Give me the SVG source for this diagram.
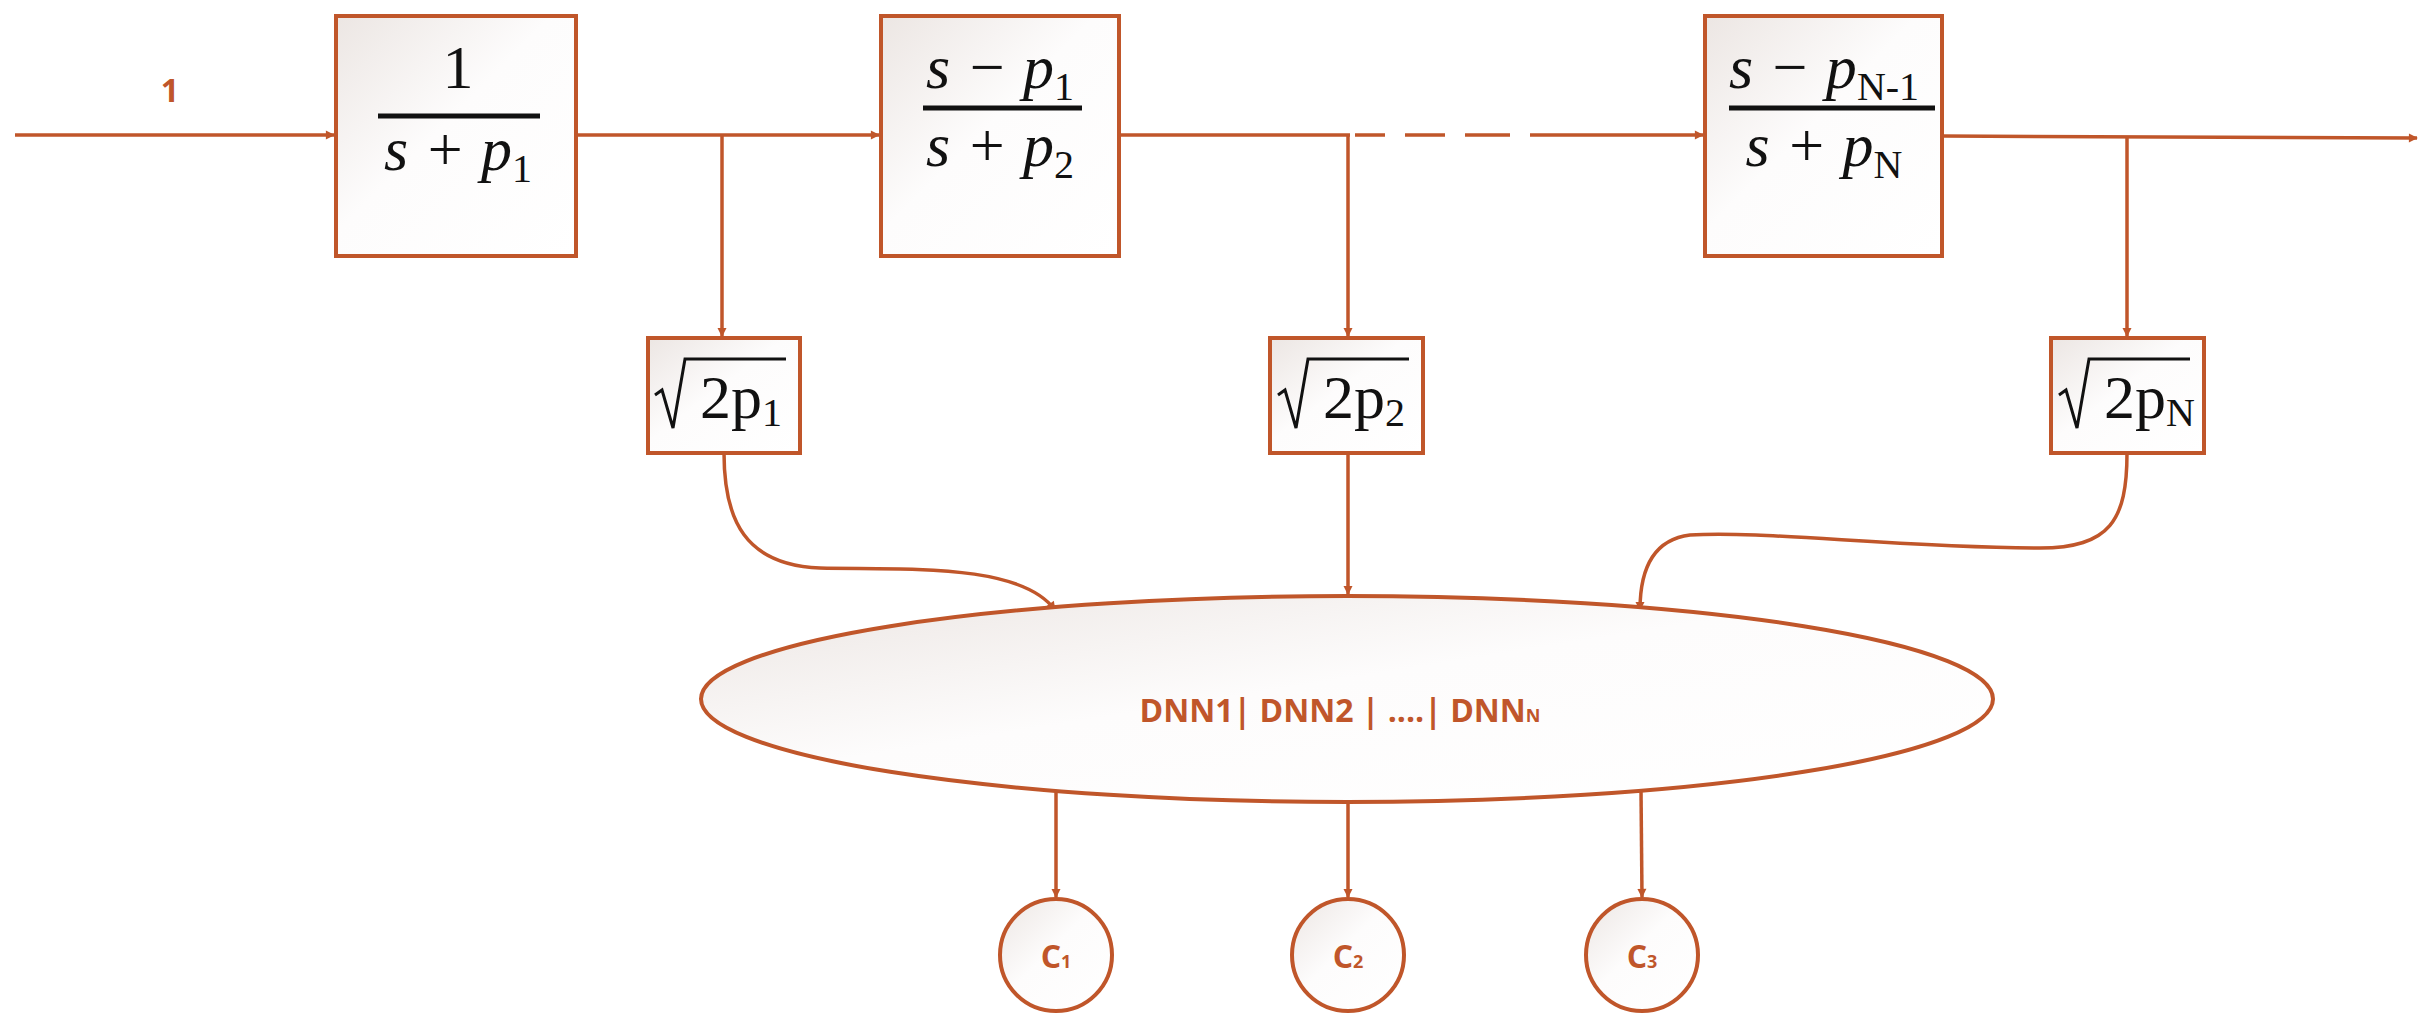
<svg xmlns="http://www.w3.org/2000/svg" width="2427" height="1021" viewBox="0 0 2427 1021">
<style>
.ln{stroke:#C0562A;stroke-width:3.5;fill:none}
.bx{stroke:#C0562A;stroke-width:4;fill:url(#g)}
.m{font-family:"Liberation Serif",serif;font-size:62px;fill:#111}
.mi{font-style:italic}
.sb{font-size:40px;font-style:normal}
.o{font-family:"Open Sans","Noto Sans",sans-serif;font-weight:bold;fill:#C0562A}
.bar{stroke:#111;stroke-width:5}
</style>
<defs>
<linearGradient id="g" x1="0" y1="0" x2="1" y2="1"><stop offset="0" stop-color="#ece6e3"/><stop offset="0.45" stop-color="#fdfcfc"/><stop offset="1" stop-color="#ffffff"/></linearGradient>
<marker id="a" viewBox="0 0 10 10" refX="9" refY="5" markerWidth="5" markerHeight="5" orient="auto" markerUnits="userSpaceOnUse" style="overflow:visible"><path d="M0,0L10,5L0,10z" fill="#C0562A" transform="scale(1.8) translate(-4,-2.2)"/></marker>
</defs>
<g id="connectors">
<line class="ln" x1="15" y1="135" x2="334" y2="135" marker-end="url(#a)"/>
<line class="ln" x1="576" y1="135" x2="879" y2="135" marker-end="url(#a)"/>
<line class="ln" x1="1119" y1="135" x2="1350" y2="135"/>
<path class="ln" d="M1355,135H1385M1405,135H1445M1465,135H1510M1530,135H1703" marker-end="url(#a)"/>
<line class="ln" x1="1942" y1="136" x2="2417" y2="138" marker-end="url(#a)"/>
<line class="ln" x1="722" y1="135" x2="722" y2="336" marker-end="url(#a)"/>
<line class="ln" x1="1348" y1="135" x2="1348" y2="336" marker-end="url(#a)"/>
<line class="ln" x1="2127" y1="137" x2="2127" y2="336" marker-end="url(#a)"/>
<path class="ln" d="M724,453C724,520 745,565 820,568C900,570 1020,562 1055,610" marker-end="url(#a)"/>
<line class="ln" x1="1348" y1="453" x2="1348" y2="594" marker-end="url(#a)"/>
<path class="ln" d="M2127,453C2127,520 2110,548 2040,548C1900,548 1760,530 1690,535C1650,540 1640,575 1640,610" marker-end="url(#a)"/>
<line class="ln" x1="1056" y1="790" x2="1056" y2="897" marker-end="url(#a)"/>
<line class="ln" x1="1348" y1="802" x2="1348" y2="897" marker-end="url(#a)"/>
<line class="ln" x1="1641" y1="790" x2="1642" y2="897" marker-end="url(#a)"/>
</g>
<text class="o" x="170" y="102" font-size="32" text-anchor="middle">1</text>
<g id="box1"><rect class="bx" x="336" y="16" width="240" height="240"/>
<text class="m" x="458" y="88" text-anchor="middle">1</text><line class="bar" x1="378" y1="116" x2="540" y2="116"/>
<text class="m mi" x="458" y="170" text-anchor="middle">s + p<tspan class="sb" dy="12">1</tspan></text></g>
<g id="box2"><rect class="bx" x="881" y="16" width="238" height="240"/>
<text class="m mi" x="1000" y="88" text-anchor="middle">s − p<tspan class="sb" dy="12">1</tspan></text><line class="bar" x1="923" y1="108" x2="1082" y2="108"/>
<text class="m mi" x="1000" y="166" text-anchor="middle">s + p<tspan class="sb" dy="12">2</tspan></text></g>
<g id="box3"><rect class="bx" x="1705" y="16" width="237" height="240"/>
<text class="m mi" x="1824" y="88" text-anchor="middle">s − p<tspan class="sb" dy="12">N-1</tspan></text><line class="bar" x1="1729" y1="108" x2="1935" y2="108"/>
<text class="m mi" x="1824" y="166" text-anchor="middle">s + p<tspan class="sb" dy="12">N</tspan></text></g>
<g id="sq1"><rect class="bx" x="648" y="338" width="152" height="115"/>
<path d="M655,395L662,390L673,428L685,359H786" fill="none" stroke="#111" stroke-width="3"/>
<text class="m" x="700" y="418" font-size="56">2p<tspan class="sb" dy="8">1</tspan></text></g>
<g id="sq2"><rect class="bx" x="1270" y="338" width="153" height="115"/>
<path d="M1278,395L1285,390L1296,428L1308,359H1409" fill="none" stroke="#111" stroke-width="3"/>
<text class="m" x="1323" y="418" font-size="56">2p<tspan class="sb" dy="8">2</tspan></text></g>
<g id="sqN"><rect class="bx" x="2051" y="338" width="153" height="115"/>
<path d="M2059,395L2066,390L2077,428L2089,359H2190" fill="none" stroke="#111" stroke-width="3"/>
<text class="m" x="2104" y="418" font-size="56">2p<tspan class="sb" dy="8">N</tspan></text></g>
<g id="dnn"><ellipse class="bx" cx="1347" cy="699" rx="646" ry="103"/>
<text class="o" x="1340" y="722" font-size="32" text-anchor="middle">DNN1| DNN2 | ....| DNN<tspan font-size="18">N</tspan></text></g>
<g id="c1"><ellipse class="bx" cx="1056" cy="955" rx="56" ry="56"/><text class="o" x="1056" y="968" font-size="32" text-anchor="middle">C<tspan font-size="18">1</tspan></text></g>
<g id="c2"><ellipse class="bx" cx="1348" cy="955" rx="56" ry="56"/><text class="o" x="1348" y="968" font-size="32" text-anchor="middle">C<tspan font-size="18">2</tspan></text></g>
<g id="c3"><ellipse class="bx" cx="1642" cy="955" rx="56" ry="56"/><text class="o" x="1642" y="968" font-size="32" text-anchor="middle">C<tspan font-size="18">3</tspan></text></g>
</svg>
